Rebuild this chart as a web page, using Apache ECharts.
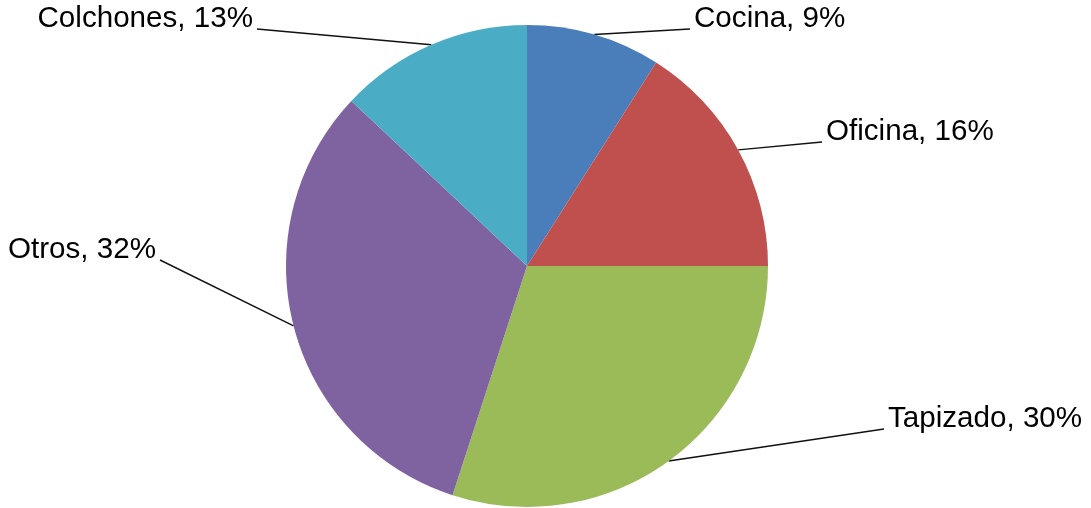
<!DOCTYPE html>
<html>
<head>
<meta charset="utf-8">
<script src="https://cdn.jsdelivr.net/npm/echarts@6/dist/echarts.min.js"></script>
<style>
  html, body { margin: 0; padding: 0; background: #ffffff; }
  #chart { width: 1091px; height: 508px; }
</style>
</head>
<body>
<div id="chart"></div>
<script>
// Market share by furniture segment
const categories = ['Cocina', 'Oficina', 'Tapizado', 'Otros', 'Colchones'];
const shares = [9, 16, 30, 32, 13];
const sliceColors = ['#4a7ebb', '#c0504d', '#9bbb59', '#7f63a1', '#4bacc6'];

// Where each label sits (anchor x, vertical middle y, text alignment)
const labelSpots = {
  'Cocina':    { x: 694, y: 19,  align: 'left'  },
  'Oficina':   { x: 826, y: 132, align: 'left'  },
  'Tapizado':  { x: 888, y: 419, align: 'left'  },
  'Otros':     { x: 156, y: 250, align: 'right' },
  'Colchones': { x: 253, y: 19,  align: 'right' }
};

const chart = echarts.init(document.getElementById('chart'), null, { renderer: 'canvas' });

chart.setOption({
  backgroundColor: '#ffffff',
  animation: false,
  series: [{
    type: 'pie',
    center: [527, 266],
    radius: 241,
    startAngle: 90,
    clockwise: true,
    avoidLabelOverlap: false,
    data: categories.map((name, i) => ({
      name: name,
      value: shares[i],
      itemStyle: { color: sliceColors[i] }
    })),
    label: {
      show: true,
      position: 'outside',
      formatter: p => p.name + ', ' + p.value + '%',
      fontFamily: '"Liberation Sans", Arial, sans-serif',
      fontSize: 29.6,
      color: '#000000'
    },
    labelLine: {
      show: true,
      smooth: false,
      length: 20,
      length2: 20,
      lineStyle: { color: '#111111', width: 1.4 }
    },
    labelLayout: function (params) {
      const name = categories[params.dataIndex];
      const spot = labelSpots[name];
      const start = params.labelLinePoints[0];
      const endX = spot.align === 'left' ? spot.x - 4 : spot.x + 4;
      const endY = spot.y + 10;
      return {
        x: spot.x,
        y: spot.y,
        align: spot.align,
        verticalAlign: 'middle',
        labelLinePoints: [start, [endX, endY], [endX, endY]]
      };
    },
    emphasis: { disabled: true }
  }]
});
</script>
</body>
</html>
